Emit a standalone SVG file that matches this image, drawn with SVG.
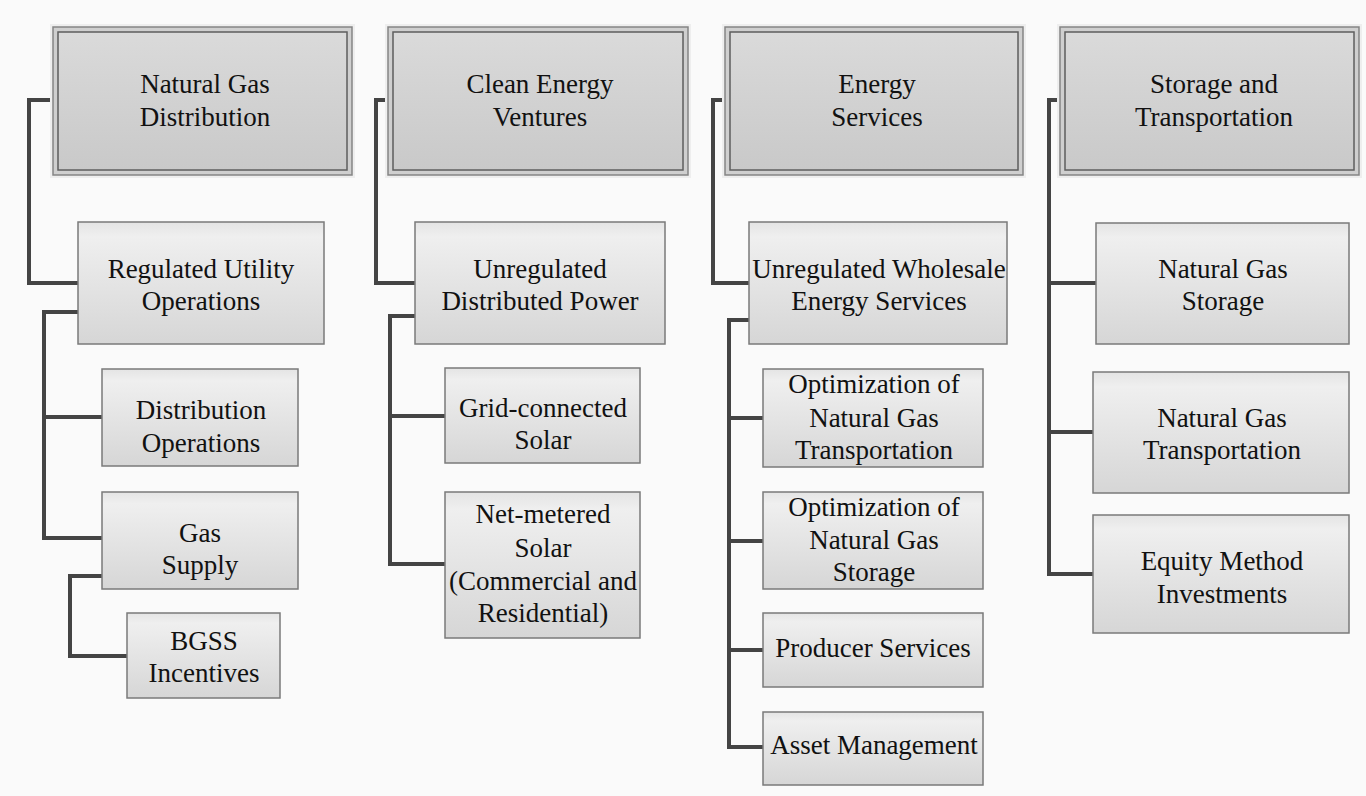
<svg xmlns="http://www.w3.org/2000/svg" width="1366" height="796" viewBox="0 0 1366 796">
<defs>
<linearGradient id="gTop" x1="0" y1="0" x2="0" y2="1">
<stop offset="0" stop-color="#dadada"/>
<stop offset="1" stop-color="#c9c9c9"/>
</linearGradient>
<linearGradient id="gSub" x1="0" y1="0" x2="0" y2="1">
<stop offset="0" stop-color="#e4e4e4"/>
<stop offset="0.12" stop-color="#efefef"/>
<stop offset="1" stop-color="#d6d6d6"/>
</linearGradient>
</defs>
<style>
.bg{fill:#fafafa}
.glow{fill:none;stroke:#eeeeee;stroke-width:6}
.outer{fill:#cfcfcf;stroke:#858585;stroke-width:1.5}
.inner{fill:url(#gTop);stroke:#5e5e5e;stroke-width:1.5}
.sub{fill:url(#gSub);stroke:#7a7a7a;stroke-width:1.5}
.conn{fill:none;stroke:#444444;stroke-width:4;stroke-linejoin:miter}
.t{font-family:'Liberation Serif','DejaVu Serif',serif;font-size:27px;fill:#111111;text-anchor:middle}
</style>
<rect class="bg" x="0" y="0" width="1366" height="796"/>

<g id="connectors">
<polyline class="conn" points="54,100 29,100 29,283 78,283"/>
<polyline class="conn" points="78,312 44,312 44,538 102,538"/>
<polyline class="conn" points="44,417 102,417"/>
<polyline class="conn" points="102,576 70,576 70,656 127,656"/>
<polyline class="conn" points="389,100 376,100 376,283 415,283"/>
<polyline class="conn" points="415,316 390,316 390,564 445,564"/>
<polyline class="conn" points="390,416 445,416"/>
<polyline class="conn" points="726,100 713,100 713,283 749,283"/>
<polyline class="conn" points="749,320 729,320 729,747 763,747"/>
<polyline class="conn" points="729,418 763,418"/>
<polyline class="conn" points="729,541 763,541"/>
<polyline class="conn" points="729,650 763,650"/>
<polyline class="conn" points="1061,100 1049,100 1049,574 1093,574"/>
<polyline class="conn" points="1049,283 1096,283"/>
<polyline class="conn" points="1049,432 1093,432"/>
</g>

<g class="t">
<g id="n-natural-gas-distribution">
<rect class="glow" x="53" y="27" width="299" height="148"/>
<rect class="outer" x="53" y="27" width="299" height="148"/>
<rect class="inner" x="58" y="32" width="289" height="138"/>
<text x="205" y="93">Natural Gas</text>
<text x="205" y="126">Distribution</text>
</g>
<g id="n-clean-energy-ventures">
<rect class="glow" x="388" y="27" width="300" height="148"/>
<rect class="outer" x="388" y="27" width="300" height="148"/>
<rect class="inner" x="393" y="32" width="290" height="138"/>
<text x="540" y="93">Clean Energy</text>
<text x="540" y="126">Ventures</text>
</g>
<g id="n-energy-services">
<rect class="glow" x="725" y="27" width="298" height="148"/>
<rect class="outer" x="725" y="27" width="298" height="148"/>
<rect class="inner" x="730" y="32" width="288" height="138"/>
<text x="877" y="93">Energy</text>
<text x="877" y="126">Services</text>
</g>
<g id="n-storage-transportation">
<rect class="glow" x="1060" y="27" width="299" height="148"/>
<rect class="outer" x="1060" y="27" width="299" height="148"/>
<rect class="inner" x="1065" y="32" width="289" height="138"/>
<text x="1214" y="93">Storage and</text>
<text x="1214" y="126">Transportation</text>
</g>

<g id="n-regulated-utility">
<rect class="sub" x="78" y="222" width="246" height="122"/>
<text x="201" y="278">Regulated Utility</text>
<text x="201" y="310">Operations</text>
</g>
<g id="n-distribution-operations">
<rect class="sub" x="102" y="369" width="196" height="97"/>
<text x="201" y="419">Distribution</text>
<text x="201" y="452">Operations</text>
</g>
<g id="n-gas-supply">
<rect class="sub" x="102" y="492" width="196" height="97"/>
<text x="200" y="542">Gas</text>
<text x="200" y="574">Supply</text>
</g>
<g id="n-bgss-incentives">
<rect class="sub" x="127" y="613" width="153" height="85"/>
<text x="204" y="650">BGSS</text>
<text x="204" y="682">Incentives</text>
</g>

<g id="n-unregulated-distributed-power">
<rect class="sub" x="415" y="222" width="250" height="122"/>
<text x="540" y="278">Unregulated</text>
<text x="540" y="310">Distributed Power</text>
</g>
<g id="n-grid-connected-solar">
<rect class="sub" x="445" y="368" width="195" height="95"/>
<text x="543" y="417">Grid-connected</text>
<text x="543" y="449">Solar</text>
</g>
<g id="n-net-metered-solar">
<rect class="sub" x="445" y="492" width="195" height="146"/>
<text x="543" y="523">Net-metered</text>
<text x="543" y="557">Solar</text>
<text x="543" y="590">(Commercial and</text>
<text x="543" y="622">Residential)</text>
</g>

<g id="n-unregulated-wholesale">
<rect class="sub" x="749" y="222" width="258" height="122"/>
<text x="879" y="278">Unregulated Wholesale</text>
<text x="879" y="310">Energy Services</text>
</g>
<g id="n-opt-transportation">
<rect class="sub" x="763" y="369" width="220" height="98"/>
<text x="874" y="393">Optimization of</text>
<text x="874" y="427">Natural Gas</text>
<text x="874" y="459">Transportation</text>
</g>
<g id="n-opt-storage">
<rect class="sub" x="763" y="492" width="220" height="97"/>
<text x="874" y="516">Optimization of</text>
<text x="874" y="549">Natural Gas</text>
<text x="874" y="581">Storage</text>
</g>
<g id="n-producer-services">
<rect class="sub" x="763" y="613" width="220" height="74"/>
<text x="873" y="657">Producer Services</text>
</g>
<g id="n-asset-management">
<rect class="sub" x="763" y="712" width="220" height="73"/>
<text x="874" y="754">Asset Management</text>
</g>

<g id="n-ng-storage">
<rect class="sub" x="1096" y="223" width="253" height="121"/>
<text x="1223" y="278">Natural Gas</text>
<text x="1223" y="310">Storage</text>
</g>
<g id="n-ng-transportation">
<rect class="sub" x="1093" y="372" width="256" height="121"/>
<text x="1222" y="427">Natural Gas</text>
<text x="1222" y="459">Transportation</text>
</g>
<g id="n-equity-method">
<rect class="sub" x="1093" y="515" width="256" height="118"/>
<text x="1222" y="570">Equity Method</text>
<text x="1222" y="603">Investments</text>
</g>
</g>
</svg>
